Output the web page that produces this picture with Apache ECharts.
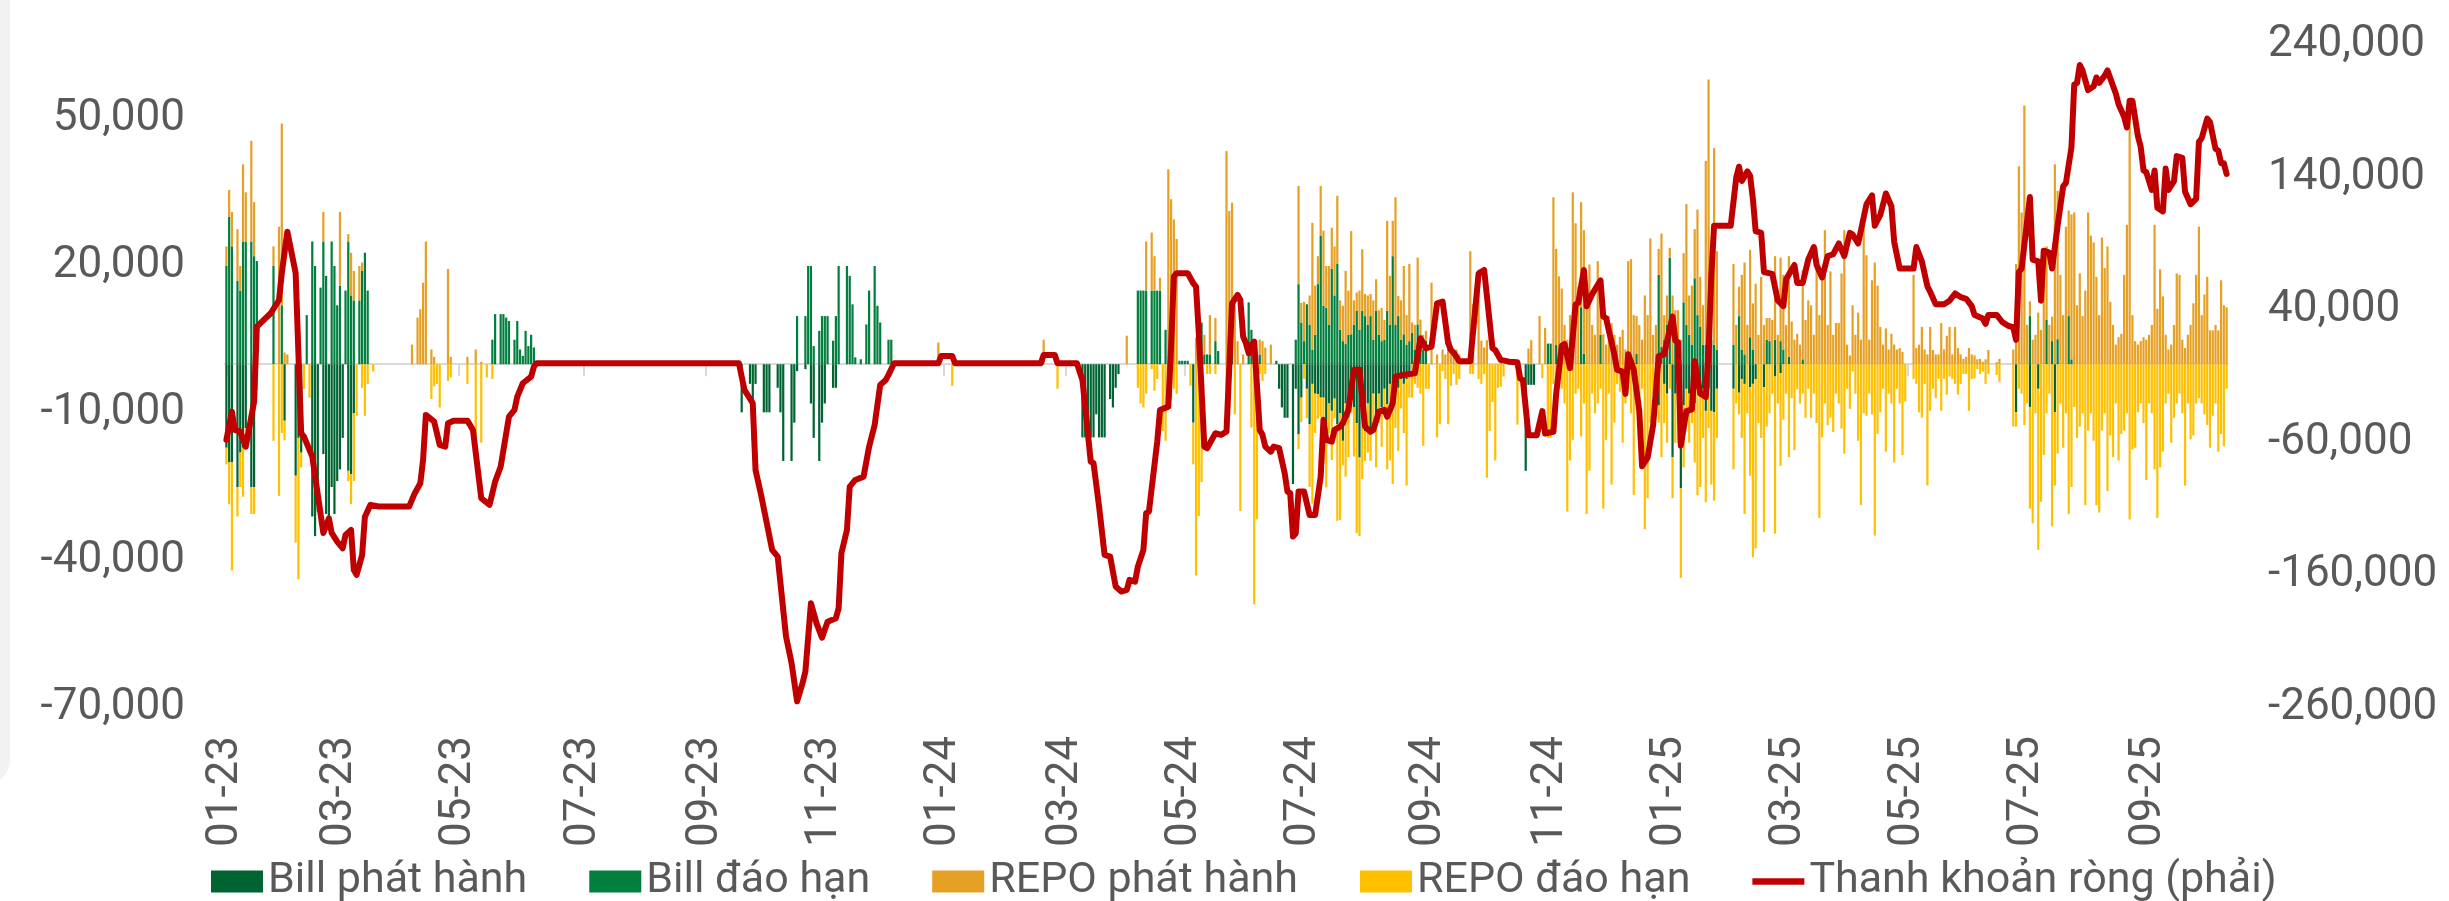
<!DOCTYPE html>
<html>
<head>
<meta charset="utf-8">
<title>Thanh khoản ròng</title>
<script src="https://cdn.jsdelivr.net/npm/echarts@6.0.0/dist/echarts.min.js"></script>
<style>
    html, body { margin: 0; padding: 0; background: #fff; }
    #main { width: 2449px; height: 901px; }
</style>
</head>
<body>
<div id="main"></div>
<script>
// values are in thousand bn VND, one entry per business day from the month's first weekday
var UNIT = 1000;
var START = '2023-01-03', END = '2025-10-09';

var seriesNames = ['Bill phát hành', 'Bill đáo hạn', 'REPO phát hành', 'REPO đáo hạn', 'Thanh khoản ròng (phải)'];

var billIssue = {
    '2023-01': [-17, -20, -20, 0, -25, -18, -17, -13, 0, -25, -25],
    '2023-02': [-11.5, 0, 0, 0, -22.7, -15, -18, 0, 0, 0, -31, -35, -30, 0, -18.3, -30.5, -32.6, -25, -30.5, -23.8],
    '2023-03': [-21.4, -15, 0, -21.7, -22.4, -10],
    '2023-09': [0, 0, 0, 0, 0, 0, 0, 0, 0, 0, 0, 0, 0, -9.8, 0, 0, -4, -15.6, -4],
    '2023-10': [-9.8, -9.8, -9.8, 0, 0, -4.8, -9.8, -19.7, 0, 0, -19.7, -11.9, -1.4, 0, 0, -1, 0, -8, -15, 0, -19.7, -11.9],
    '2023-11': [-8, 0, 0, -4.8, -4.8],
    '2024-03': [0, 0, 0, 0, 0, 0, -14.9, -14.9, -14.9, -14.9, -14.9, -10.2, -14.9, -14.9, -14.9, 0, -7.1, -8.8, -4.8, -2],
    '2024-05': [0, 0, 0, -11.9],
    '2024-06': [0, 0, 0, 0, 0, 0, 0, 0, 0, 0, 0, -5, -8.8, -10.9, -10.9, 0, -24.4, -5, -14.3, -6.8],
    '2024-07': [0, -5, -12.2, -4, -6, -6.1, -6.8, -6.8, -12.2, -8, -9.5, -7, -12.2, -10, -15.6, -8, -10.9, -6, -8.8, -12, -19, -8.8, -13.6],
    '2024-08': [-8, -13.6, -6, -10.2, -6, -8.8, -5, -8.1, -4, -6.1, -5, -4.8, -3, -4, -3, -2],
    '2024-10': [0, 0, 0, 0, 0, 0, 0, 0, 0, 0, 0, 0, 0, 0, -21.7, -4.2, -4.2, -4.2],
    '2024-12': [0, 0, 0, 0, 0, 0, 0, 0, 0, 0, 0, 0, 0, 0, 0, 0, 0, 0, -8.4, 0, -4, -6],
    '2025-01': [0, -18.9, -6, -4, -25.2, -8.4, -5, -6, -4, -8, -5, -6, -5, -9.5, -5, -9.5, -9.8, -5],
    '2025-02': [-5, 0, -5.8, -3, -4, 0, -4.7, -4, -3, 0, 0, -4.7, 0, 0, 0, -2.5, 0, -1.8],
    '2025-06': [0, 0, 0, 0, 0, 0, 0, 0, 0, 0, 0, 0, 0, 0, 0, 0, 0, -9.8],
    '2025-07': [0, -8.7, 0, 0, -5, 0, 0, 0, 0, 0, -9.8]
};

var billMature = {
    '2023-01': [20, 30, 24, 0, 17, 15, 25, 25, 0, 25, 22, 21, 0, 0, 0, 0, 0, 20, 0, 0, 12],
    '2023-02': [0, 0, 0, 0, 0, 0, 0, 0, 10, 0, 25, 20, 0, 15.6, 25, 18, 0, 25, 20, 12],
    '2023-03': [16, 0, 15, 25, 14, 13, 0, 13, 19, 22.7, 15],
    '2023-05': [0, 0, 0, 0, 0, 0, 0, 0, 0, 0, 0, 0, 5, 10.2, 0, 10.2, 10.2, 9.5, 8.8, 0, 5, 8.8, 3],
    '2023-06': [1.7, 6.8, 3.7, 6, 3.4],
    '2023-10': [0, 0, 0, 0, 0, 0, 0, 0, 0, 0, 0, 0, 9.8, 0, 0, 9.8, 20, 20, 3.7, 0, 6.8, 9.8],
    '2023-11': [9.8, 9.8, 0, 4.8, 9.8, 20, 0, 0, 20, 18, 12.2, 1.4, 0, 1, 0, 8.1, 15, 0, 20, 11.9, 8.5],
    '2023-12': [0, 5, 5],
    '2024-04': [0, 0, 0, 0, 0, 15, 15, 15, 15, 0, 15, 15, 15, 15, 0, 7, 0, 0, 0, 0, 0.7, 0.7],
    '2024-05': [0.7, 0.7, 0, 0, 0, 0, 8.5, 2, 2, 2, 0, 4.7, 2.7, 0, 0, 0, 0, 7.4],
    '2024-06': [12.6, 7, 0, 0, 2, 0, 0, 0, 0, 0, 0.7, 0, 0, 0, 0, 0, 0, 5, 16.3, 8.5],
    '2024-07': [4.7, 12.2, 8, 3, 6, 16.3, 26.1, 11.9, 11.5, 8, 19.4, 14, 20.4, 7, 4.7, 4.1, 6, 6.1, 8, 10.9, 7, 10.9, 9.8],
    '2024-08': [8, 9.8, 5, 10.9, 6, 4.7, 5, 10.9, 8, 22, 8, 9.8, 5, 6.1, 4, 4.7, 6.4, 3, 8.1, 4.7, 3, 4.8],
    '2024-10': [0, 0, 0, 0, 0, 0, 0, 0, 0, 0, 0, 0, 0, 0, 0, 0, 0, 0, 0, 0, 0, 0, 4.2],
    '2024-11': [4.2, 0, 3.9, 0, 0, 0, 0, 0, 0, 0, 0, 11.6, 2.1, 0, 0, 0, 0, 0, 6],
    '2024-12': [0, 0, 0, 0, 0, 0, 0, 0, 0, 0, 2.1, 0, 0, 0, 0, 0, 0, 0, 18.2, 3.5, 5, 8],
    '2025-01': [21.7, 0, 5, 3, 0, 12.6, 8, 6, 4, 17.5, 10, 7.6, 4, 3.9, 4, 5, 4, 3],
    '2025-02': [4, 0, 9.8, 3, 2, 0, 5.5, 3, 0, 0, 0, 0, 5, 4.7, 0, 5, 0, 4.7, 3],
    '2025-03': [1.5, 0, 0, 0, 0, 1],
    '2025-07': [0, 9.8, 0, 0, 0, 0, 0, 9.1, 0, 4.7, 0, 5.1, 0, 0, 0, 9.8, 1]
};

var repoIssue = {
    '2023-01': [4, 5.5, 7, 0, 10.5, 5, 15.7, 10, 0, 20.5, 11, 0, 0, 0, 0, 0, 0, 4, 0, 28, 37],
    '2023-02': [2.4, 2, 0, 0, 0, 0, 0, 0, 0, 0, 0, 0, 0, 0, 6],
    '2023-03': [15, 0, 0, 1.5, 8.7, 6, 0, 7, 1.7],
    '2023-04': [0, 0, 0, 4, 0, 9.5, 11.2, 16.6, 25, 0, 3, 1.5, 0, 0, 0, 0, 19.4, 1.5],
    '2023-05': [0, 0, 0, 1.5, 0, 0, 3, 0, 0.5],
    '2023-12': [0, 0, 0, 0, 0, 0, 0, 0, 0, 0, 0, 0, 0, 0, 0, 0, 0, 0, 0, 4.4],
    '2024-02': [0, 0, 0, 0, 0, 0, 0, 0, 0, 0, 0, 0, 0, 5],
    '2024-04': [0, 5.8, 0, 0, 0, 0, 0, 0, 10, 0, 11.8, 7, 0, 2.6, 0, 0, 39.7, 33.6, 29.5, 25.5],
    '2024-05': [0, 0, 0, 0, 5.4, 0, 0, 4, 0, 8, 0, 4.7, 0, 0, 0, 43.4, 31.2, 25.5, 14, 4.7, 0, 2],
    '2024-06': [0, 0, 0, 0, 3, 4.7, 3.4, 0, 4, 0, 0, 0, 0, 0, 0, 0, 0, 0, 20, 4],
    '2024-07': [8, 0, 6, 25.8, 10, 5.7, 10.2, 15.3, 8.5, 12, 8.4, 10, 13.9, 6, 7.2, 14.9, 9, 21, 5, 3.7, 8, 12.5, 4.5],
    '2024-08': [6, 4.5, 8, 6.4, 5, 6.8, 4, 18.3, 10, 7.2, 26, 4.1, 8, 13.9, 6, 15.7, 2.1, 5, 13.6, 4.4, 3, 2],
    '2024-09': [0, 16.6, 0, 2, 0, 3, 2, 3.5, 4.7, 2, 3, 2, 0, 0, 0, 23, 12.2, 0, 19.3, 4.8, 3.4],
    '2024-10': [4.9, 0, 0, 0, 0, 0.4, 0, 0, 0, 0, 0, 0, 0, 0, 0, 3.2, 4.9, 0, 0, 9.8, 0, 7.4, 0],
    '2024-11': [0, 34, 19.6, 17.9, 15.4, 8, 5, 10, 35, 28.7, 15.8, 21.4, 25.2, 12, 20.3, 8, 6, 21, 7.3, 6.1, 4],
    '2024-12': [9.8, 8.4, 6, 4, 5.6, 7, 3, 21, 21.4, 10, 7.7, 8, 5, 14, 10, 25.6, 6, 8, 5.3, 23.1, 5, 6],
    '2025-01': [2, 14, 6, 8, 5, 10, 24.6, 8, 12, 10, 21.5, 10.2, 8, 37.5, 54, 15, 40, 20],
    '2025-02': [16.4, 8, 6, 15.2, 18.7, 8, 17.8, 9.4, 16.4, 6, 17.8, 8, 4.4, 4.7, 9, 17, 6, 17, 15.2, 8],
    '2025-03': [20.5, 8.7, 5, 6.2, 4, 18.2, 9, 13, 12, 6, 23.6, 10, 18.5, 27.3, 8, 18.9, 6, 8.4, 8.4, 18.5, 27.3],
    '2025-04': [4, 1.8, 12, 6, 10.5, 5, 28.6, 22.2, 5, 17.1, 20.7, 16, 7.6, 4, 7.3, 3, 6.2, 4, 3, 3.3, 2.5, 0],
    '2025-05': [0, 0, 18.2, 3.3, 4, 7.6, 3, 2, 7.6, 2.9, 2, 2, 8.4, 3, 5.8, 7.6, 2, 7.6, 3.3, 2, 1.1, 1.5],
    '2025-06': [3.3, 2, 1.8, 1, 1.1, 0.5, 1, 2.9, 0, 0, 0.4, 1.1, 0, 0, 0, 0, 3, 20.4, 40.3, 30.9, 52.7],
    '2025-07': [8, 3, 5, 6, 10.5, 7, 19.6, 14.9, 8, 5, 40.7, 30.2, 18.2, 10, 28, 21.5, 29.5, 30.9, 12, 18.5, 9.8, 15, 30.9],
    '2025-08': [26.2, 24.8, 17.8, 10, 25.8, 19.6, 24, 12.7, 8, 4, 5.5, 6.2, 18.2, 28.4, 53, 10, 4.7, 4, 4.7, 5.5, 5],
    '2025-09': [6, 8, 28.4, 11.3, 19.3, 13.8, 6, 3, 4, 8, 18.5, 18.2, 5, 3.3, 6, 8, 12.4, 18.2, 28, 10, 14.2, 17.8],
    '2025-10': [6.9, 6.9, 8, 6.9, 17.1, 12, 11.6]
};

var repoMature = {
    '2023-01': [-3.4, -8.5, -22, 0, -6, -7, -10, -2, 0, -5.5, -5.5, -5.4, 0, 0, 0, 0, 0, -15.6, 0, -26.8, -14],
    '2023-02': [-4, 0, 0, 0, -13.6, -28.8, -3, -5, 0, -6.8],
    '2023-03': [0, 0, 0, -2.1, -6.1, -13.8, -10.5, 0, -4.8, -10.5, -4, 0, -1.5],
    '2023-04': [0, 0, 0, 0, 0, 0, 0, 0, 0, 0, -7.1, -4.5, -4, -8.8, 0, 0, -3.4, -2.7],
    '2023-05': [0, 0, 0, -4, 0, 0, -16, 0, -16, 0, -2.7, 0, -3],
    '2024-01': [0, 0, 0, -4.4],
    '2024-02': [0, 0, 0, 0, 0, 0, 0, 0, 0, 0, 0, 0, 0, 0, 0, 0, 0, 0, -5],
    '2024-04': [0, 0, 0, 0, 0, -4.8, -8, -8.8, -6, 0, -1, -5.4, -3, 0, -13.6, -15.6, -4, -7, -5, -6],
    '2024-05': [0, 0, -4.4, -8.5, -43, -30.9, -24, 0, -2, -2, 0, -2, 0, 0, 0, -5, -8.5, 0, -10.2, 0, -29.9],
    '2024-06': [0, -12.9, -48.9, -31.6, -2, -3.4, -2, 0, 0, 0, 0, 0, 0, 0, 0, 0, 0, 0, -3, -5],
    '2024-07': [-3, -6, -12.8, -24.4, -8, -5, -4, -13.6, -12.9, -6, -10, -4, -19.7, -21.7, -5, -14.9, -8, -4, -10, -22.4, -16, -14.6, -6.1],
    '2024-08': [-10, -6.1, -8, -10.8, -6, -8, -5, -13.3, -15.6, -18.3, -8, -12.9, -6, -10, -21.7, -4.8, -6.8, -4, -4.8, -6, -16.6, -5],
    '2024-09': [-5, 0, 0, -14.9, -12.2, -1.4, -3, -12.2, -4.4, -2, -4.2, -3, 0, 0, 0, -2, -2, 0, -3, -4, -2],
    '2024-10': [-23.1, -13.6, -7.7, -19.6, -4.8, -4.6, -2.5, 0, 0, 0, 0, -12.3, 0, 0, 0, 0, 0, 0, 0, 0, -2.8, 0, -15],
    '2024-11': [-15, -4, -8.4, -3, -5, -8, -30, -19.6, -15.4, -6, -5, -14.7, -8, -30.5, -21.7, -6, -10, -8, -5, -29.4, -15.4],
    '2024-12': [-6, -24.5, -11.9, -4, -5.6, -16, -8, -5, -10, -26.6, -6, -8, -5, -33.6, -27.3, -11.9, -6, -5, -3.5, -18.9, -8, -10],
    '2025-01': [-5, -8.4, -10, -12, -18.3, -12.6, -6, -10, -8, -12, -21.7, -19, -10, -18.6, -8, -15, -18, -10],
    '2025-02': [-16.4, -8, -4.4, -12, -26.5, -10, -18, -35.3, -34.5, -12, -15, -29.5, -12.7, -10, -6, -32, -8, -18.9, -11.3, -6],
    '2025-03': [-18.9, -6.9, -17.5, -5.1, -8, -6, -10.9, -5, -10.9, -6, -12, -31.3, -14.9, -8, -12.4, -10.9, -13.8, -6, -8, -13.1, -18.2],
    '2025-04': [-5, -9.1, -1.5, -6, -15.6, -28.7, -10, -10.5, -6, -10.2, -34.9, -14.2, -9.8, -5, -17.8, -6, -8, -20, -5, -8, -18.5, -7.6],
    '2025-05': [0, 0, -3, -4, -9.8, -10.9, -4, -24.7, -9.5, -5, -6.9, -3, -9.5, -3, -6.2, -2.5, -3, -4, -6.2, -4, -2, -2],
    '2025-06': [-9.5, -3, -2.9, -1, -2, -1.5, -4, -2, 0, 0, -2.2, -3.6, 0, 0, 0, 0, -12.7, -2.9, -5, -6, -12.4],
    '2025-07': [-8, -20.7, -32.4, -10, -32.8, -28, -18.5, -10, -6, -33, -14.9, -18.2, -8, -17, -10, -30.5, -25, -8.7, -15, -12.7, -10, -28.7, -13.5],
    '2025-08': [-10, -15.6, -28.7, -30.2, -13.5, -10, -25.8, -14.5, -18.9, -8, -19.6, -14.2, -13.5, -10, -31.6, -17.4, -17, -9.8, -8, -12, -23.6],
    '2025-09': [-8, -10, -21.4, -31.3, -21, -17.8, -8, -6, -16, -10.9, -8, -6, -10, -24.7, -8, -15.3, -14.5, -8, -6.9, -8, -10.2, -12.4],
    '2025-10': [-17, -10.5, -8, -17.8, -14.2, -16.7, -5]
};

// net liquidity (right axis), turning points of the line
var netLiquidity = [
    ['2023-01-03', -57.8], ['2023-01-05', -36.5], ['2023-01-06', -50.3], ['2023-01-10', -51.6], ['2023-01-12', -62.9],
    ['2023-01-17', -29], ['2023-01-18', 27.6], ['2023-01-25', 37.7], ['2023-01-30', 47.7], ['2023-01-31', 68],
    ['2023-02-02', 99.2], ['2023-02-07', 67.9], ['2023-02-09', -52.8], ['2023-02-10', -55.3], ['2023-02-15', -70.4],
    ['2023-02-21', -128], ['2023-02-23', -117], ['2023-02-24', -128], ['2023-02-28', -134.5], ['2023-03-02', -139.5],
    ['2023-03-03', -129.5], ['2023-03-07', -125.7], ['2023-03-08', -155.9], ['2023-03-09', -159.6], ['2023-03-13', -144.5],
    ['2023-03-14', -115.7], ['2023-03-16', -106.8], ['2023-03-21', -108], ['2023-04-05', -108], ['2023-04-07', -98],
    ['2023-04-11', -90.5], ['2023-04-12', -72.9], ['2023-04-13', -39], ['2023-04-18', -44], ['2023-04-20', -61.6],
    ['2023-04-24', -62.9], ['2023-04-25', -45.2], ['2023-04-27', -43.3], ['2023-05-04', -43.3], ['2023-05-08', -50.3],
    ['2023-05-11', -101.8], ['2023-05-16', -106.8], ['2023-05-18', -89.3], ['2023-05-22', -78], ['2023-05-25', -40.3],
    ['2023-05-29', -35.2], ['2023-05-30', -25.2], ['2023-06-01', -15.1], ['2023-06-06', -10.1], ['2023-06-07', -2.6],
    ['2023-06-08', 0], ['2023-09-19', 0], ['2023-09-21', -20.1], ['2023-09-26', -30.2], ['2023-09-27', -80.5],
    ['2023-09-29', -99.3], ['2023-10-05', -140.8], ['2023-10-09', -145.8], ['2023-10-12', -206], ['2023-10-16', -226],
    ['2023-10-18', -255], ['2023-10-20', -241], ['2023-10-23', -232.5], ['2023-10-25', -181], ['2023-10-27', -196],
    ['2023-10-31', -207], ['2023-11-02', -195], ['2023-11-07', -192.3], ['2023-11-08', -184.7], ['2023-11-09', -143.3],
    ['2023-11-13', -125.7], ['2023-11-14', -93], ['2023-11-16', -88], ['2023-11-21', -85.5], ['2023-11-23', -62.9],
    ['2023-11-27', -46.5], ['2023-11-29', -16.4], ['2023-12-01', -12.6], ['2023-12-04', -8.8], ['2023-12-06', 0],
    ['2023-12-28', 0], ['2023-12-29', 5.5], ['2024-01-04', 5.5], ['2024-01-05', 0], ['2024-02-19', 0],
    ['2024-02-20', 6.3], ['2024-02-26', 6.3], ['2024-02-27', 0], ['2024-03-07', 0], ['2024-03-11', -12.6],
    ['2024-03-12', -32.7], ['2024-03-14', -74.2], ['2024-03-15', -75.4], ['2024-03-19', -108], ['2024-03-21', -144.5],
    ['2024-03-25', -145.8], ['2024-03-27', -168.4], ['2024-03-29', -172.2], ['2024-04-02', -171], ['2024-04-03', -163.4],
    ['2024-04-05', -164.7], ['2024-04-08', -153.4], ['2024-04-10', -140.8], ['2024-04-11', -113], ['2024-04-12', -111.9],
    ['2024-04-17', -59.1], ['2024-04-18', -35.2], ['2024-04-23', -32.7], ['2024-04-24', 12.5], ['2024-04-25', 65.3],
    ['2024-04-26', 67.9], ['2024-05-02', 67.9], ['2024-05-06', 60.3], ['2024-05-07', 57.8], ['2024-05-08', 22.6],
    ['2024-05-10', -62.9], ['2024-05-13', -64.1], ['2024-05-16', -52.8], ['2024-05-20', -54], ['2024-05-22', -51.6],
    ['2024-05-24', 45.2], ['2024-05-28', 51.5], ['2024-05-29', 47.7], ['2024-05-30', 20.1], ['2024-05-31', 15.1],
    ['2024-06-03', 7.5], ['2024-06-04', 13.8], ['2024-06-05', 16.3], ['2024-06-07', -50.3], ['2024-06-10', -54],
    ['2024-06-11', -62.9], ['2024-06-13', -66.7], ['2024-06-14', -62.9], ['2024-06-18', -64.1], ['2024-06-20', -82.9],
    ['2024-06-21', -96.8], ['2024-06-24', -98], ['2024-06-25', -130.7], ['2024-06-26', -128.2], ['2024-06-27', -96.8],
    ['2024-07-01', -96.8], ['2024-07-03', -114.4], ['2024-07-05', -114.4], ['2024-07-09', -85.5], ['2024-07-10', -42.7],
    ['2024-07-11', -57.8], ['2024-07-15', -59.1], ['2024-07-16', -50.3], ['2024-07-18', -47.8], ['2024-07-19', -45.2],
    ['2024-07-23', -35.2], ['2024-07-25', -5], ['2024-07-29', -5], ['2024-07-31', -47.8], ['2024-08-02', -51.6],
    ['2024-08-05', -50.3], ['2024-08-07', -36.5], ['2024-08-09', -35.2], ['2024-08-12', -40.3], ['2024-08-14', -30.2],
    ['2024-08-15', -10.1], ['2024-08-20', -8.8], ['2024-08-26', -7.5], ['2024-08-28', 18.9], ['2024-08-30', 11.3],
    ['2024-09-03', 12.6], ['2024-09-05', 45.2], ['2024-09-09', 46.5], ['2024-09-11', 15.1], ['2024-09-12', 10],
    ['2024-09-13', 8], ['2024-09-17', 1.5], ['2024-09-23', 1.5], ['2024-09-26', 67.7], ['2024-09-30', 70.3],
    ['2024-10-03', 11.3], ['2024-10-04', 10], ['2024-10-08', 2.5], ['2024-10-11', 1.2], ['2024-10-16', 0.7],
    ['2024-10-17', -11.5], ['2024-10-18', -12.7], ['2024-10-22', -54.3], ['2024-10-25', -54.3], ['2024-10-29', -36.1],
    ['2024-10-30', -53], ['2024-11-04', -51.7], ['2024-11-05', -23.1], ['2024-11-07', 13.2], ['2024-11-08', 14.5],
    ['2024-11-12', -3.7], ['2024-11-14', 44.3], ['2024-11-15', 45.6], ['2024-11-19', 70.3], ['2024-11-20', 43],
    ['2024-11-22', 52.1], ['2024-11-27', 62.5], ['2024-11-28', 35.3], ['2024-11-29', 33.9], ['2024-12-04', 6.7],
    ['2024-12-05', -5], ['2024-12-09', -6.3], ['2024-12-10', -23.1], ['2024-12-11', 6.7], ['2024-12-13', -5],
    ['2024-12-17', -36.1], ['2024-12-18', -77.6], ['2024-12-20', -71.2], ['2024-12-24', -46.5], ['2024-12-26', 5.4],
    ['2024-12-30', 6.7], ['2025-01-02', 35.3], ['2025-01-03', 17.1], ['2025-01-06', 15.8], ['2025-01-07', -62.1],
    ['2025-01-09', -36.1], ['2025-01-13', -34.8], ['2025-01-14', 1.5], ['2025-01-16', -22.8], ['2025-01-20', -25.5],
    ['2025-01-21', 9.5], ['2025-01-22', 66], ['2025-01-23', 103.7], ['2025-01-31', 103.7], ['2025-02-04', 140],
    ['2025-02-05', 148.2], ['2025-02-06', 137.4], ['2025-02-10', 144.7], ['2025-02-11', 141.4], ['2025-02-12', 124],
    ['2025-02-13', 99.7], ['2025-02-17', 98.3], ['2025-02-18', 68.8], ['2025-02-21', 67.4], ['2025-02-25', 47.2],
    ['2025-02-27', 43.1], ['2025-02-28', 63.3], ['2025-03-05', 74.1], ['2025-03-06', 60.6], ['2025-03-10', 60.6],
    ['2025-03-12', 78.2], ['2025-03-14', 87.6], ['2025-03-17', 74.1], ['2025-03-19', 64.7], ['2025-03-21', 80.8],
    ['2025-03-25', 82.2], ['2025-03-27', 90.3], ['2025-03-31', 80.8], ['2025-04-02', 98.3], ['2025-04-03', 97],
    ['2025-04-07', 90.3], ['2025-04-10', 119.9], ['2025-04-14', 126.6], ['2025-04-15', 103.7], ['2025-04-17', 111.8],
    ['2025-04-21', 128], ['2025-04-23', 118.5], ['2025-04-24', 91.6], ['2025-04-28', 71.4], ['2025-05-05', 71.4],
    ['2025-05-06', 87.6], ['2025-05-08', 76.8], ['2025-05-12', 58], ['2025-05-13', 53.9], ['2025-05-15', 44.5],
    ['2025-05-20', 44.5], ['2025-05-22', 47.2], ['2025-05-26', 52.6], ['2025-05-28', 49.9], ['2025-05-30', 48.6],
    ['2025-06-03', 43.1], ['2025-06-04', 36.4], ['2025-06-09', 33.7], ['2025-06-10', 29.7], ['2025-06-11', 36.4],
    ['2025-06-16', 36.4], ['2025-06-18', 31.1], ['2025-06-20', 28.4], ['2025-06-24', 27], ['2025-06-25', 17.6],
    ['2025-06-26', 68.8], ['2025-06-27', 71.4], ['2025-07-02', 125.3], ['2025-07-03', 78.2], ['2025-07-07', 76.8],
    ['2025-07-08', 47.2], ['2025-07-09', 84.9], ['2025-07-11', 83.5], ['2025-07-14', 71.4], ['2025-07-16', 103.7],
    ['2025-07-18', 133.4], ['2025-07-21', 136], ['2025-07-23', 163], ['2025-07-24', 210.1], ['2025-07-25', 211.4],
    ['2025-07-28', 224.9], ['2025-07-29', 220.8], ['2025-07-31', 206], ['2025-08-04', 208.8], ['2025-08-05', 215.5],
    ['2025-08-06', 211.4], ['2025-08-08', 216.9], ['2025-08-11', 220.8], ['2025-08-14', 203.4], ['2025-08-15', 195.3],
    ['2025-08-19', 185.9], ['2025-08-20', 177.8], ['2025-08-21', 198], ['2025-08-22', 198], ['2025-08-26', 171.1],
    ['2025-08-27', 163], ['2025-08-28', 145.4], ['2025-08-29', 144.2], ['2025-09-02', 130.7], ['2025-09-03', 145.4],
    ['2025-09-04', 117.2], ['2025-09-08', 114.5], ['2025-09-09', 146.8], ['2025-09-10', 130.7], ['2025-09-12', 137.4],
    ['2025-09-15', 156.2], ['2025-09-17', 154.9], ['2025-09-18', 129.3], ['2025-09-22', 119.9], ['2025-09-24', 124],
    ['2025-09-25', 167], ['2025-09-26', 169.7], ['2025-09-30', 184.5], ['2025-10-01', 181.9], ['2025-10-03', 161.7],
    ['2025-10-06', 160.3], ['2025-10-07', 150.9], ['2025-10-08', 150.9], ['2025-10-09', 142.8]
];

// business-day calendar for the category axis
var days = [];
(function () {
    var d = new Date(START + 'T00:00:00Z');
    var end = new Date(END + 'T00:00:00Z').getTime();
    while (d.getTime() <= end) {
        var wd = d.getUTCDay();
        if (wd !== 0 && wd !== 6) days.push(d.toISOString().slice(0, 10));
        d.setUTCDate(d.getUTCDate() + 1);
    }
})();

var dayIndex = {}, monthStart = {};
days.forEach(function (s, i) {
    dayIndex[s] = i;
    var m = s.slice(0, 7);
    if (monthStart[m] === undefined) monthStart[m] = i;
});

function expand(byMonth) {
    var out = days.map(function () { return 0; });
    Object.keys(byMonth).forEach(function (m) {
        var i0 = monthStart[m];
        byMonth[m].forEach(function (v, k) {
            var i = i0 + k;
            if (i < days.length && days[i].slice(0, 7) === m) out[i] = v * UNIT;
        });
    });
    return out;
}

function dayPos(s) {
    var d = new Date(s + 'T00:00:00Z');
    while (dayIndex[s] === undefined) {
        d.setUTCDate(d.getUTCDate() - 1);
        s = d.toISOString().slice(0, 10);
    }
    return dayIndex[s];
}

// ticks / labels every second month (Jan, Mar, May...)
var markedDays = {};
Object.keys(monthStart).forEach(function (m) {
    if (parseInt(m.slice(5, 7), 10) % 2 === 1) markedDays[monthStart[m]] = true;
});
function isMarked(index) { return !!markedDays[index]; }

function fmt(v) {
    return String(Math.round(v)).replace(/\B(?=(\d{3})+(?!\d))/g, ',');
}

var textColor = '#595959';
var fontSize = 44;

var mChart = echarts.init(document.getElementById('main'));

var barBase = {
    type: 'bar',
    stack: 'flows',
    barWidth: '80%',
    xAxisIndex: 0,
    yAxisIndex: 0
};

var option = {
    animation: false,
    textStyle: { fontFamily: 'Roboto' },
    color: ['#006432', '#007f3e', '#e6a024', '#ffc000', '#c00000'],
    grid: { left: 225, right: 221, top: 45, bottom: 193, containLabel: false },
    graphic: [{
        type: 'rect',
        shape: { x: -40, y: -40, width: 50, height: 825, r: 26 },
        style: { fill: '#f2f2f2' },
        silent: true
    }],
    legend: {
        left: 211,
        top: 860,
        padding: 0,
        itemWidth: 52,
        itemHeight: 22,
        itemGap: 62,
        textStyle: { fontSize: 43, color: textColor },
        data: [
            { name: seriesNames[0], icon: 'rect' },
            { name: seriesNames[1], icon: 'rect' },
            { name: seriesNames[2], icon: 'rect' },
            { name: seriesNames[3], icon: 'rect' },
            { name: seriesNames[4], icon: 'path://M0,0 H8 V1 H0 Z' }
        ]
    },
    xAxis: [{
        type: 'category',
        data: days,
        position: 'bottom',
        axisLine: { show: false, onZero: false },
        axisTick: { show: false },
        axisLabel: {
            interval: isMarked,
            rotate: 90,
            margin: 28,
            fontSize: fontSize,
            color: textColor,
            formatter: function (v) { return v.slice(5, 7) + '-' + v.slice(2, 4); }
        }
    }, {
        type: 'category',
        data: days,
        position: 'bottom',
        axisLine: { show: true, onZero: true, onZeroAxisIndex: 0, lineStyle: { color: '#d9d9d9', width: 2 } },
        axisTick: { show: true, interval: isMarked, alignWithLabel: true, length: 12, lineStyle: { color: '#d9d9d9', width: 2 } },
        axisLabel: { show: false }
    }],
    yAxis: [{
        // data scale, left
        type: 'value', position: 'left', min: -70000, max: 65000,
        axisLabel: { show: false }, axisLine: { show: false }, axisTick: { show: false }, splitLine: { show: false }
    }, {
        // data scale, right
        type: 'value', position: 'right', min: -260000, max: 240000,
        axisLabel: { show: false }, axisLine: { show: false }, axisTick: { show: false }, splitLine: { show: false }
    }, {
        // tick labels for the left scale (counted from its minimum)
        type: 'value', position: 'left', min: 0, max: 135000, interval: 30000,
        axisLabel: {
            showMaxLabel: false, margin: 40, fontSize: fontSize, color: textColor,
            formatter: function (v) { return fmt(v - 70000); }
        },
        axisLine: { show: false }, axisTick: { show: false }, splitLine: { show: false }
    }, {
        // tick labels for the right scale
        type: 'value', position: 'right', min: 0, max: 500000, interval: 100000,
        axisLabel: {
            margin: 40, fontSize: fontSize, color: textColor,
            formatter: function (v) { return fmt(v - 260000); }
        },
        axisLine: { show: false }, axisTick: { show: false }, splitLine: { show: false }
    }],
    series: [
        Object.assign({ name: seriesNames[0], data: expand(billIssue) }, barBase),
        Object.assign({ name: seriesNames[1], data: expand(billMature) }, barBase),
        Object.assign({ name: seriesNames[2], data: expand(repoIssue) }, barBase),
        Object.assign({ name: seriesNames[3], data: expand(repoMature) }, barBase),
        {
            name: seriesNames[4],
            type: 'line',
            xAxisIndex: 0,
            yAxisIndex: 1,
            symbol: 'none',
            z: 5,
            lineStyle: { width: 6, color: '#c00000', join: 'round', cap: 'round' },
            data: netLiquidity.map(function (p) { return [dayPos(p[0]), p[1] * UNIT]; })
        }
    ]
};

mChart.setOption(option);
</script>
</body>
</html>
